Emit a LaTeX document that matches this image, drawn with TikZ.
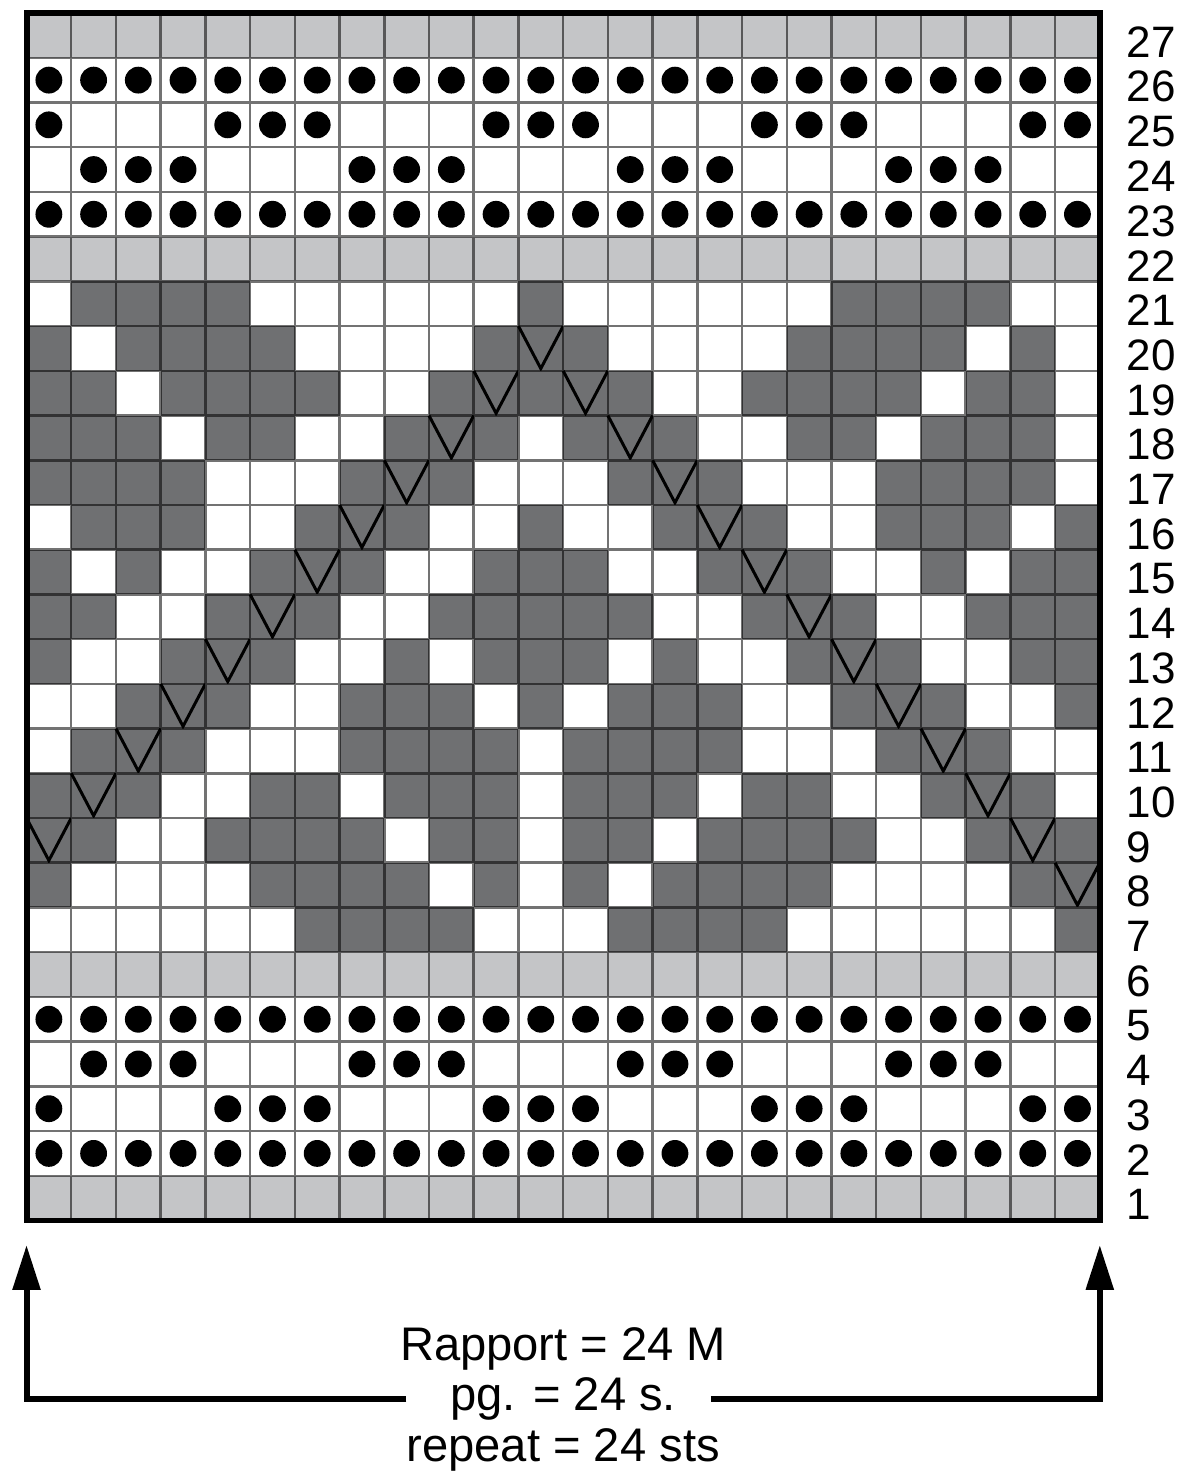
\documentclass[tikz,border=0pt]{standalone}
\usepackage{fontspec}
\setmainfont{Liberation Sans}
\usetikzlibrary{arrows.meta,positioning,calc}
\definecolor{darkcell}{RGB}{111,112,114}
\definecolor{lightcell}{RGB}{196,197,199}

\begin{document}
\begin{tikzpicture}[x=1cm, y=1cm,
    gridline/.style={black, opacity=0.55, line width=1.6pt},
    vmark/.style={black, line width=1.9pt},
    rownum/.style={anchor=west, inner sep=0pt, font=\fontsize{28}{28}\selectfont},
    repeatarrow/.style={-{Triangle[length=1cm, width=0.6cm]}, line width=3.8pt}]
  \useasboundingbox (-0.593,-5.758) rectangle (25.749,27.292);

  % plain rows
  \foreach \row in {1,6,22,27}
    \fill[lightcell] (0,\row-1) rectangle (24,\row);

  % motif rows: 0 = white, 1 = dark, 2 = dark with V
  \foreach \row/\cells in {
      21/{0,1,1,1,1,0,0,0,0,0,0,1,0,0,0,0,0,0,1,1,1,1,0,0},
      20/{1,0,1,1,1,1,0,0,0,0,1,2,1,0,0,0,0,1,1,1,1,0,1,0},
      19/{1,1,0,1,1,1,1,0,0,1,2,1,2,1,0,0,1,1,1,1,0,1,1,0},
      18/{1,1,1,0,1,1,0,0,1,2,1,0,1,2,1,0,0,1,1,0,1,1,1,0},
      17/{1,1,1,1,0,0,0,1,2,1,0,0,0,1,2,1,0,0,0,1,1,1,1,0},
      16/{0,1,1,1,0,0,1,2,1,0,0,1,0,0,1,2,1,0,0,1,1,1,0,1},
      15/{1,0,1,0,0,1,2,1,0,0,1,1,1,0,0,1,2,1,0,0,1,0,1,1},
      14/{1,1,0,0,1,2,1,0,0,1,1,1,1,1,0,0,1,2,1,0,0,1,1,1},
      13/{1,0,0,1,2,1,0,0,1,0,1,1,1,0,1,0,0,1,2,1,0,0,1,1},
      12/{0,0,1,2,1,0,0,1,1,1,0,1,0,1,1,1,0,0,1,2,1,0,0,1},
      11/{0,1,2,1,0,0,0,1,1,1,1,0,1,1,1,1,0,0,0,1,2,1,0,0},
      10/{1,2,1,0,0,1,1,0,1,1,1,0,1,1,1,0,1,1,0,0,1,2,1,0},
      9/{2,1,0,0,1,1,1,1,0,1,1,0,1,1,0,1,1,1,1,0,0,1,2,1},
      8/{1,0,0,0,0,1,1,1,1,0,1,0,1,0,1,1,1,1,0,0,0,0,1,2},
      7/{0,0,0,0,0,0,1,1,1,1,0,0,0,1,1,1,1,0,0,0,0,0,0,1}}{
    \foreach \v [count=\col] in \cells {
      \ifnum\v>0 \fill[darkcell] (\col-1,\row-1) rectangle (\col,\row); \fi
      \ifnum\v=2 \draw[vmark] (\col-1,\row) -- (\col-0.5,\row-0.95) -- (\col,\row); \fi
    }
  }

  % dot rows
  \foreach \row/\cells in {
      2/{1,...,24}, 5/{1,...,24}, 23/{1,...,24}, 26/{1,...,24},
      3/{1,5,6,7,11,12,13,17,18,19,23,24}, 25/{1,5,6,7,11,12,13,17,18,19,23,24},
      4/{2,3,4,8,9,10,14,15,16,20,21,22}, 24/{2,3,4,8,9,10,14,15,16,20,21,22}}{
    \foreach \col in \cells
      \fill (\col-0.5,\row-0.5) circle (0.3);
  }

  \draw[gridline] (0,0) grid (24,27);
  \draw[line width=3.8pt] (0,0) rectangle (24,27);

  \foreach \row in {1,...,27}
    \node[rownum] (n\row) at (24.6,\row-0.65) {\row};

  \coordinate (lefttip) at (0,-0.55);
  \coordinate (righttip) at (24,-0.55);
  \node[align=center, inner sep=0pt, font=\fontsize{30}{32}\selectfont] (rapport) at (12,-4.0)
    {Rapport = 24 M\\pg. = 24 s.\\repeat = 24 sts};
  \draw[repeatarrow] ($(rapport.west)+(0.15,0)$) -| (lefttip);
  \draw[repeatarrow] ($(rapport.east)+(-0.35,0)$) -| (righttip);
\end{tikzpicture}
\end{document}
